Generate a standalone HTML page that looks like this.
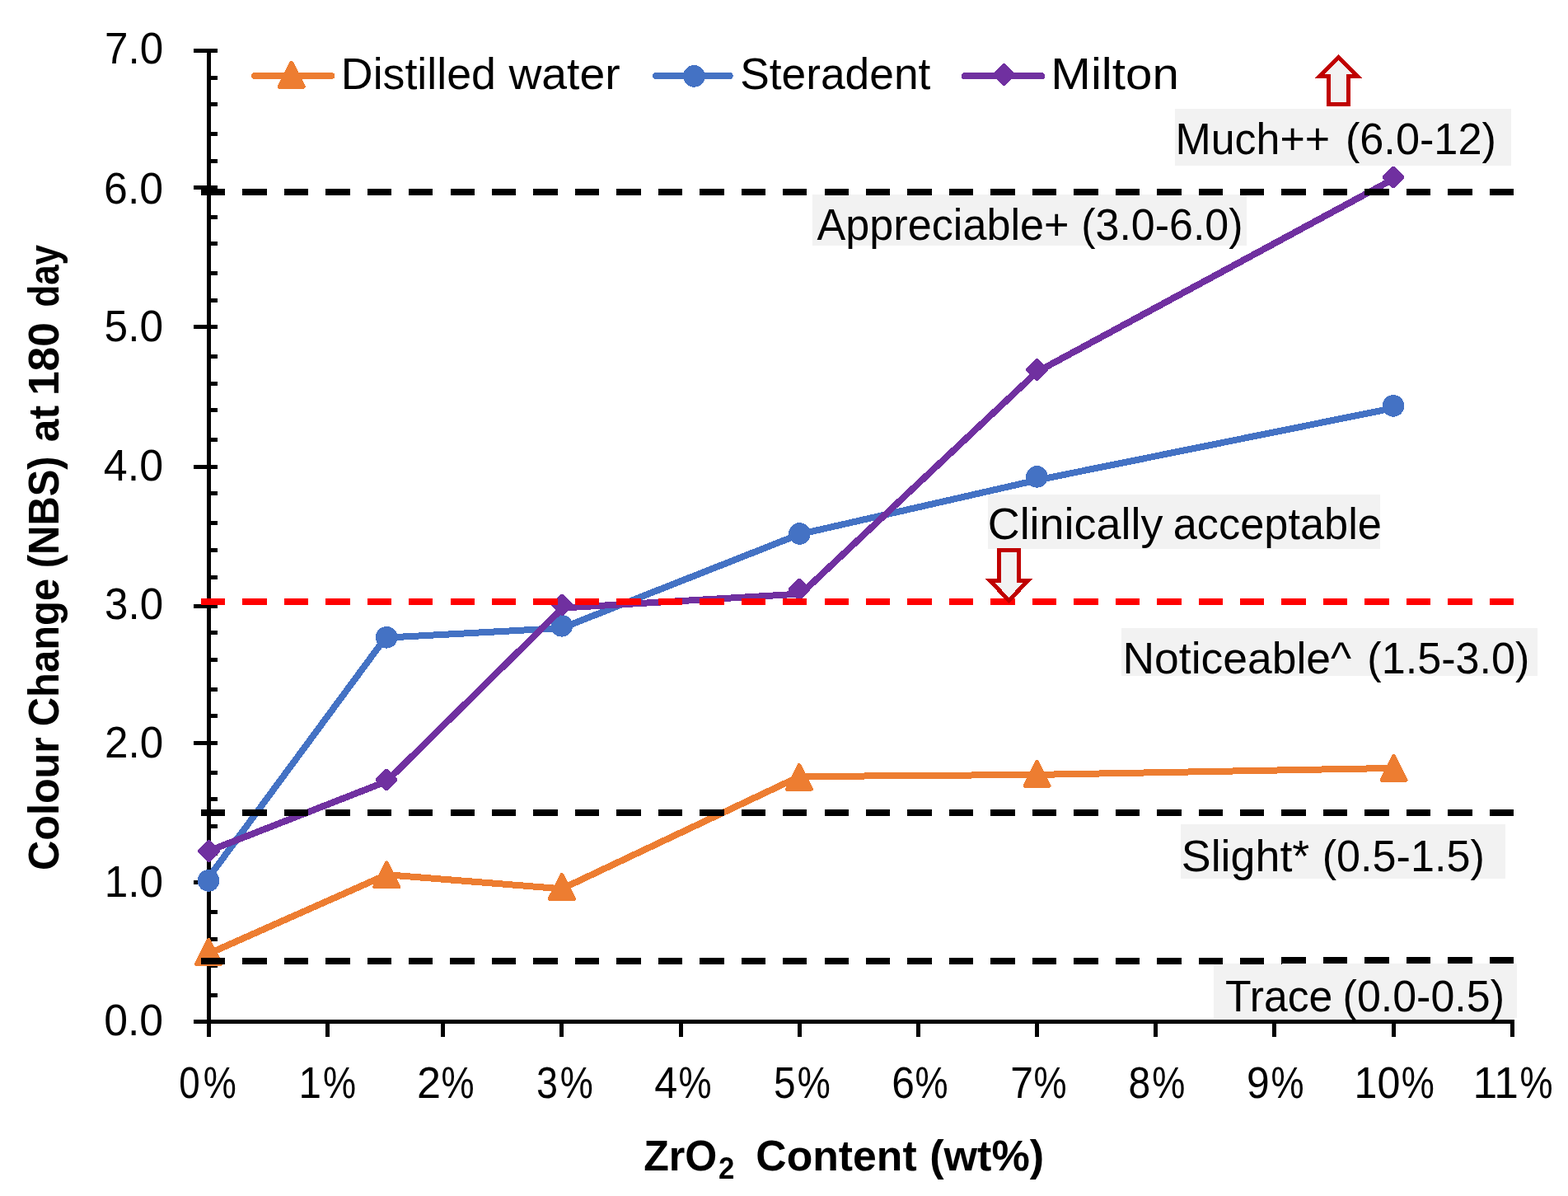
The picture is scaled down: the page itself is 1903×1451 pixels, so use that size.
<!DOCTYPE html>
<html lang="en"><head><meta charset="utf-8"><title>Colour change chart</title>
<style>html,body{margin:0;padding:0;background:#fff}body{width:1903px;height:1451px;overflow:hidden}svg{display:block}text{font-family:"Liberation Sans",sans-serif;fill:#000}rect,line,polyline,polygon,path,circle{shape-rendering:crispEdges}</style></head><body>
<svg width="1903" height="1451" viewBox="0 0 1903 1451" role="img" aria-label="Colour change (NBS) at 180 day versus ZrO2 content">
<rect width="1903" height="1451" fill="#fff"/>
<g fill="#f2f2f2">
<rect x="1426" y="132.1" width="407.8" height="68.8"/>
<rect x="985.9" y="235.7" width="527.3" height="62.5"/>
<rect x="1199.2" y="600" width="475.7" height="65.5"/>
<rect x="1361.2" y="762.1" width="504.7" height="58.2"/>
<rect x="1432.8" y="999.9" width="394.2" height="66"/>
<rect x="1473" y="1168.9" width="367.9" height="65.7"/>
</g>
<g stroke="#000" stroke-width="5" fill="none">
<line x1="253.5" y1="59" x2="253.5" y2="1257.5"/>
<line x1="235" y1="1239.3" x2="1837.6" y2="1239.3" stroke-width="5.5"/>
<line x1="397.5" y1="1239.3" x2="397.5" y2="1257.5"/>
<line x1="537.4" y1="1239.3" x2="537.4" y2="1257.5"/>
<line x1="681.3" y1="1239.3" x2="681.3" y2="1257.5"/>
<line x1="826.7" y1="1239.3" x2="826.7" y2="1257.5"/>
<line x1="970.3" y1="1239.3" x2="970.3" y2="1257.5"/>
<line x1="1114.4" y1="1239.3" x2="1114.4" y2="1257.5"/>
<line x1="1258.2" y1="1239.3" x2="1258.2" y2="1257.5"/>
<line x1="1402" y1="1239.3" x2="1402" y2="1257.5"/>
<line x1="1546.4" y1="1239.3" x2="1546.4" y2="1257.5"/>
<line x1="1691.1" y1="1239.3" x2="1691.1" y2="1257.5"/>
<line x1="1835.1" y1="1239.3" x2="1835.1" y2="1257.5"/>
<line x1="235" y1="1070.1" x2="264" y2="1070.1"/>
<line x1="235" y1="901.6" x2="264" y2="901.6"/>
<line x1="235" y1="735.2" x2="264" y2="735.2"/>
<line x1="235" y1="566.6" x2="264" y2="566.6"/>
<line x1="235" y1="396.9" x2="264" y2="396.9"/>
<line x1="235" y1="227.6" x2="264" y2="227.6"/>
<line x1="235" y1="61.6" x2="264" y2="61.6"/>
<line x1="253.5" y1="94.1" x2="264" y2="94.1"/>
<line x1="253.5" y1="126.3" x2="264" y2="126.3"/>
<line x1="253.5" y1="162.3" x2="264" y2="162.3"/>
<line x1="253.5" y1="195.6" x2="264" y2="195.6"/>
<line x1="253.5" y1="263.3" x2="264" y2="263.3"/>
<line x1="253.5" y1="295.6" x2="264" y2="295.6"/>
<line x1="253.5" y1="331.6" x2="264" y2="331.6"/>
<line x1="253.5" y1="364.6" x2="264" y2="364.6"/>
<line x1="253.5" y1="432.6" x2="264" y2="432.6"/>
<line x1="253.5" y1="465.6" x2="264" y2="465.6"/>
<line x1="253.5" y1="497.4" x2="264" y2="497.4"/>
<line x1="253.5" y1="533.8" x2="264" y2="533.8"/>
<line x1="253.5" y1="598.9" x2="264" y2="598.9"/>
<line x1="253.5" y1="634.8" x2="264" y2="634.8"/>
<line x1="253.5" y1="667.8" x2="264" y2="667.8"/>
<line x1="253.5" y1="700.1" x2="264" y2="700.1"/>
<line x1="253.5" y1="767.6" x2="264" y2="767.6"/>
<line x1="253.5" y1="800.6" x2="264" y2="800.6"/>
<line x1="253.5" y1="836.6" x2="264" y2="836.6"/>
<line x1="253.5" y1="868.9" x2="264" y2="868.9"/>
<line x1="253.5" y1="937.9" x2="264" y2="937.9"/>
<line x1="253.5" y1="969.4" x2="264" y2="969.4"/>
<line x1="253.5" y1="1002.4" x2="264" y2="1002.4"/>
<line x1="253.5" y1="1035.1" x2="264" y2="1035.1"/>
<line x1="253.5" y1="1106.7" x2="264" y2="1106.7"/>
<line x1="253.5" y1="1139.0" x2="264" y2="1139.0"/>
<line x1="253.5" y1="1171.2" x2="264" y2="1171.2"/>
<line x1="253.5" y1="1207.2" x2="264" y2="1207.2"/>
</g>
<g id="labels">
<text font-size="53"><tspan x="413.89" y="107.60" textLength="188.02" lengthAdjust="spacingAndGlyphs">Distilled</tspan> <tspan x="617.40" y="107.60" textLength="135.30" lengthAdjust="spacingAndGlyphs">water</tspan></text>
<text font-size="53"><tspan x="898.19" y="107.60" textLength="231.16" lengthAdjust="spacingAndGlyphs">Steradent</tspan></text>
<text font-size="53"><tspan x="1275.33" y="107.90" textLength="155.50" lengthAdjust="spacingAndGlyphs">Milton</tspan></text>
<text font-size="53"><tspan x="1426.44" y="187.00" textLength="187.63" lengthAdjust="spacingAndGlyphs">Much++</tspan> <tspan x="1632.90" y="187.00" textLength="182.99" lengthAdjust="spacingAndGlyphs">(6.0-12)</tspan></text>
<text font-size="53"><tspan x="991.45" y="290.60" textLength="306.12" lengthAdjust="spacingAndGlyphs">Appreciable+</tspan> <tspan x="1312.21" y="290.60" textLength="196.33" lengthAdjust="spacingAndGlyphs">(3.0-6.0)</tspan></text>
<text font-size="53"><tspan x="1198.70" y="653.80" textLength="212.81" lengthAdjust="spacingAndGlyphs">Clinically</tspan> <tspan x="1423.78" y="653.80" textLength="253.15" lengthAdjust="spacingAndGlyphs">acceptable</tspan></text>
<text font-size="53"><tspan x="1362.51" y="817.10" textLength="277.70" lengthAdjust="spacingAndGlyphs">Noticeable^</tspan> <tspan x="1659.30" y="817.10" textLength="197.16" lengthAdjust="spacingAndGlyphs">(1.5-3.0)</tspan></text>
<text font-size="53"><tspan x="1433.76" y="1057.20" textLength="155.51" lengthAdjust="spacingAndGlyphs">Slight*</tspan> <tspan x="1604.70" y="1057.20" textLength="197.06" lengthAdjust="spacingAndGlyphs">(0.5-1.5)</tspan></text>
<text font-size="53"><tspan x="1487.08" y="1226.70" textLength="130.23" lengthAdjust="spacingAndGlyphs">Trace</tspan> <tspan x="1629.61" y="1226.70" textLength="196.33" lengthAdjust="spacingAndGlyphs">(0.0-0.5)</tspan></text>
<text font-size="53"><tspan x="126.15" y="1256.30" textLength="71.99" lengthAdjust="spacingAndGlyphs">0.0</tspan></text>
<text font-size="53"><tspan x="126.72" y="1088.30" textLength="71.39" lengthAdjust="spacingAndGlyphs">1.0</tspan></text>
<text font-size="53"><tspan x="126.94" y="919.30" textLength="71.17" lengthAdjust="spacingAndGlyphs">2.0</tspan></text>
<text font-size="53"><tspan x="127.07" y="750.50" textLength="71.04" lengthAdjust="spacingAndGlyphs">3.0</tspan></text>
<text font-size="53"><tspan x="125.87" y="582.50" textLength="72.27" lengthAdjust="spacingAndGlyphs">4.0</tspan></text>
<text font-size="53"><tspan x="126.62" y="413.70" textLength="71.51" lengthAdjust="spacingAndGlyphs">5.0</tspan></text>
<text font-size="53"><tspan x="126.11" y="246.50" textLength="72.03" lengthAdjust="spacingAndGlyphs">6.0</tspan></text>
<text font-size="53"><tspan x="126.94" y="77.20" textLength="71.17" lengthAdjust="spacingAndGlyphs">7.0</tspan></text>
<text font-size="53"><tspan x="217.17" y="1332.20" textLength="25.44" lengthAdjust="spacingAndGlyphs">0</tspan><tspan x="246.70" y="1332.20" textLength="40.11" lengthAdjust="spacingAndGlyphs">%</tspan></text>
<text font-size="53"><tspan x="362.58" y="1332.20" textLength="27.43" lengthAdjust="spacingAndGlyphs">1</tspan><tspan x="391.90" y="1332.20" textLength="40.11" lengthAdjust="spacingAndGlyphs">%</tspan></text>
<text font-size="53"><tspan x="505.90" y="1332.20" textLength="28.99" lengthAdjust="spacingAndGlyphs">2</tspan><tspan x="535.60" y="1332.20" textLength="40.11" lengthAdjust="spacingAndGlyphs">%</tspan></text>
<text font-size="53"><tspan x="650.93" y="1332.20" textLength="26.04" lengthAdjust="spacingAndGlyphs">3</tspan><tspan x="679.70" y="1332.20" textLength="40.11" lengthAdjust="spacingAndGlyphs">%</tspan></text>
<text font-size="53"><tspan x="794.31" y="1332.20" textLength="28.00" lengthAdjust="spacingAndGlyphs">4</tspan><tspan x="823.50" y="1332.20" textLength="40.11" lengthAdjust="spacingAndGlyphs">%</tspan></text>
<text font-size="53"><tspan x="939.07" y="1332.20" textLength="26.54" lengthAdjust="spacingAndGlyphs">5</tspan><tspan x="967.70" y="1332.20" textLength="40.11" lengthAdjust="spacingAndGlyphs">%</tspan></text>
<text font-size="53"><tspan x="1082.22" y="1332.20" textLength="27.68" lengthAdjust="spacingAndGlyphs">6</tspan><tspan x="1110.50" y="1332.20" textLength="40.11" lengthAdjust="spacingAndGlyphs">%</tspan></text>
<text font-size="53"><tspan x="1226.21" y="1332.20" textLength="27.76" lengthAdjust="spacingAndGlyphs">7</tspan><tspan x="1254.60" y="1332.20" textLength="40.11" lengthAdjust="spacingAndGlyphs">%</tspan></text>
<text font-size="53"><tspan x="1369.47" y="1332.20" textLength="26.65" lengthAdjust="spacingAndGlyphs">8</tspan><tspan x="1398.20" y="1332.20" textLength="40.11" lengthAdjust="spacingAndGlyphs">%</tspan></text>
<text font-size="53"><tspan x="1512.95" y="1332.20" textLength="27.68" lengthAdjust="spacingAndGlyphs">9</tspan><tspan x="1542.50" y="1332.20" textLength="40.11" lengthAdjust="spacingAndGlyphs">%</tspan></text>
<text font-size="53"><tspan x="1643.51" y="1332.20" textLength="55.84" lengthAdjust="spacingAndGlyphs">10</tspan><tspan x="1700.70" y="1332.20" textLength="40.11" lengthAdjust="spacingAndGlyphs">%</tspan></text>
<text font-size="53"><tspan x="1787.48" y="1332.20" textLength="55.37" lengthAdjust="spacingAndGlyphs">11</tspan><tspan x="1844.40" y="1332.20" textLength="40.11" lengthAdjust="spacingAndGlyphs">%</tspan></text>
</g>
<text font-size="52" font-weight="bold"><tspan x="781.15" y="1420.20" textLength="89.07" lengthAdjust="spacingAndGlyphs">ZrO</tspan><tspan x="871.99" y="1430.20" textLength="19.39" lengthAdjust="spacingAndGlyphs" font-size="36">2</tspan> <tspan x="917.36" y="1420.20" textLength="195.29" lengthAdjust="spacingAndGlyphs">Content</tspan> <tspan x="1128.20" y="1420.20" textLength="138.85" lengthAdjust="spacingAndGlyphs">(wt%)</tspan></text>
<text transform="rotate(-90)" y="70.90" font-size="52" font-weight="bold"><tspan x="-1055.97" textLength="161.73" lengthAdjust="spacingAndGlyphs">Colour</tspan> <tspan x="-881.32" textLength="179.51" lengthAdjust="spacingAndGlyphs">Change</tspan> <tspan x="-689.15" textLength="135.66" lengthAdjust="spacingAndGlyphs">(NBS)</tspan> <tspan x="-536.14" textLength="44.25" lengthAdjust="spacingAndGlyphs">at</tspan> <tspan x="-480.14" textLength="89.17" lengthAdjust="spacingAndGlyphs">180</tspan> <tspan x="-372.60" textLength="75.50" lengthAdjust="spacingAndGlyphs">day</tspan></text>
<g stroke-width="8" stroke-linecap="round" fill="none">
<line x1="309" y1="92" x2="402.3" y2="92" stroke="#ed7d31"/>
<line x1="796" y1="92.2" x2="885.7" y2="92.2" stroke="#4472c4"/>
<line x1="1170.8" y1="92.2" x2="1264.1" y2="92.2" stroke="#7030a0"/>
</g>
<path d="M353.7 76.4 L368.2 105.2 L339.2 105.2 Z" fill="#ed7d31" stroke="#ed7d31" stroke-width="5" stroke-linejoin="round"/>
<circle cx="842.4" cy="92.4" r="13.3" fill="#4472c4"/>
<polygon points="1217.4,77.3 1220.0,77.3 1231.8,89.1 1231.8,91.7 1220.0,103.5 1217.4,103.5 1205.6,91.7 1205.6,89.1" fill="#7030a0"/>
<polyline points="253.4,1157.0 469.2,1061.2 682.0,1078.3 970.3,942.1 1258.5,939.9 1691.5,931.9" fill="none" stroke="#ed7d31" stroke-width="8" stroke-linejoin="round" stroke-linecap="round"/>
<path d="M253.2 1140.5 L267.7 1169.4 L238.7 1169.4 Z" fill="#ed7d31" stroke="#ed7d31" stroke-width="5" stroke-linejoin="round"/>
<path d="M469.2 1047.0 L483.7 1075.8 L454.7 1075.8 Z" fill="#ed7d31" stroke="#ed7d31" stroke-width="5" stroke-linejoin="round"/>
<path d="M681.9 1061.5 L696.4 1090.3 L667.4 1090.3 Z" fill="#ed7d31" stroke="#ed7d31" stroke-width="5" stroke-linejoin="round"/>
<path d="M970.0 928.5 L984.5 957.2 L955.5 957.2 Z" fill="#ed7d31" stroke="#ed7d31" stroke-width="5" stroke-linejoin="round"/>
<path d="M1258.5 924.5 L1273.0 953.3 L1244.0 953.3 Z" fill="#ed7d31" stroke="#ed7d31" stroke-width="5" stroke-linejoin="round"/>
<path d="M1691.5 917.5 L1706.0 946.3 L1677.0 946.3 Z" fill="#ed7d31" stroke="#ed7d31" stroke-width="5" stroke-linejoin="round"/>
<polyline points="251.5,1067.0 467.8,773.7 682.0,762.0 970.3,648.2 1258.5,582.5 1691.5,495.0" fill="none" stroke="#4472c4" stroke-width="8" stroke-linejoin="round" stroke-linecap="round"/>
<circle cx="253.0" cy="1068.4" r="13.3" fill="#4472c4"/>
<circle cx="469.2" cy="773.3" r="13.3" fill="#4472c4"/>
<circle cx="681.8" cy="759.3" r="13.3" fill="#4472c4"/>
<circle cx="970.4" cy="647.5" r="13.3" fill="#4472c4"/>
<circle cx="1258.5" cy="578.4" r="13.3" fill="#4472c4"/>
<circle cx="1691.0" cy="492.4" r="13.3" fill="#4472c4"/>
<polyline points="253.5,1032.4 469.2,948.0 683.0,737.5 972.0,720.5 1258.5,451.2 1691.5,217.0" fill="none" stroke="#7030a0" stroke-width="8" stroke-linejoin="round" stroke-linecap="round"/>
<polygon points="252.2,1019.4 254.8,1019.4 266.6,1031.2 266.6,1033.8 254.8,1045.6 252.2,1045.6 240.4,1033.8 240.4,1031.2" fill="#7030a0"/>
<polygon points="467.7,932.8 470.3,932.8 482.1,944.6 482.1,947.2 470.3,959.0 467.7,959.0 455.9,947.2 455.9,944.6" fill="#7030a0"/>
<polygon points="681.1,720.9 683.7,720.9 695.5,732.7 695.5,735.3 683.7,747.1 681.1,747.1 669.3,735.3 669.3,732.7" fill="#7030a0"/>
<polygon points="969.0,702.0 971.6,702.0 983.4,713.8 983.4,716.4 971.6,728.2 969.0,728.2 957.2,716.4 957.2,713.8" fill="#7030a0"/>
<polygon points="1257.2,435.3 1259.8,435.3 1271.6,447.1 1271.6,449.7 1259.8,461.5 1257.2,461.5 1245.4,449.7 1245.4,447.1" fill="#7030a0"/>
<polygon points="1689.7,201.9 1692.3,201.9 1704.1,213.7 1704.1,216.3 1692.3,228.1 1689.7,228.1 1677.9,216.3 1677.9,213.7" fill="#7030a0"/>
<line x1="243.8" y1="232.8" x2="1837.7" y2="232.8" stroke="#000" stroke-width="8" stroke-dasharray="29.4 21.05"/>
<line x1="243.8" y1="729.7" x2="1837.7" y2="729.7" stroke="#ff0000" stroke-width="8" stroke-dasharray="29.4 21.05"/>
<line x1="243.8" y1="985.7" x2="1837.7" y2="985.7" stroke="#000" stroke-width="8" stroke-dasharray="29.4 21.05"/>
<line x1="243.8" y1="1166" x2="1837.7" y2="1165.4" stroke="#000" stroke-width="8" stroke-dasharray="29.4 21.05"/>
<g fill="#f2f2f2" stroke="#c00000" stroke-width="5" stroke-linejoin="miter">
<path d="M1624.5 69.3 L1647.8 92.5 L1636.5 92.5 L1636.5 126.5 L1612.5 126.5 L1612.5 92.5 L1601.2 92.5 Z"/>
<path d="M1224.5 728.4 L1247.6 704.5 L1236.5 704.5 L1236.5 667.5 L1212.5 667.5 L1212.5 704.5 L1201.4 704.5 Z"/>
</g>
</svg></body></html>
